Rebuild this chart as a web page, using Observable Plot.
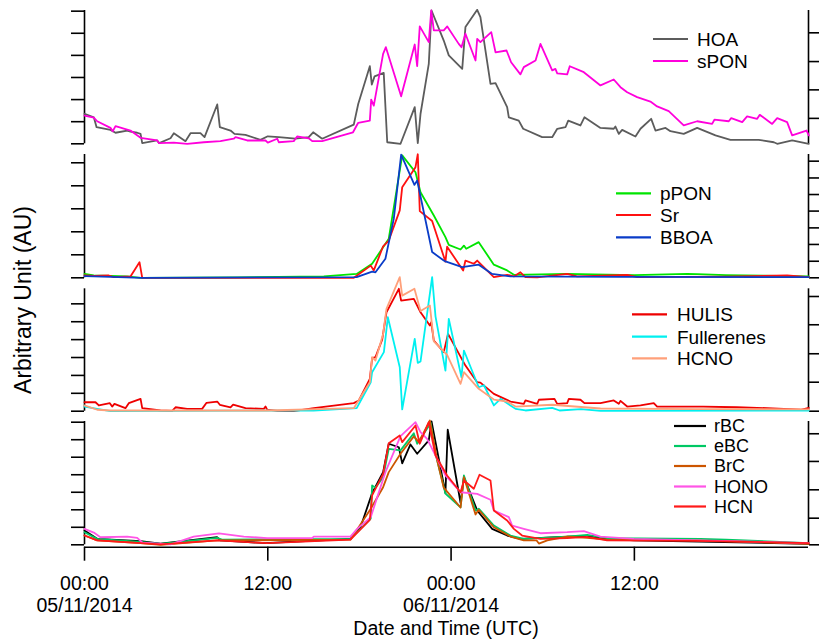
<!DOCTYPE html>
<html><head><meta charset="utf-8">
<script src="https://cdn.jsdelivr.net/npm/d3@7"></script>
<script src="https://cdn.jsdelivr.net/npm/@observablehq/plot@0.6"></script>
<style>
body{margin:0;background:#fff;}
#chart{position:relative;width:821px;height:643px;font-family:"Liberation Sans",Arial,sans-serif;}
#chart svg{position:absolute;left:0;top:0;}
</style></head><body><div id="chart"></div>
<script>
// ---- time axis (hours since 05/11/2014 00:00 UTC) ----
const xDomain = [0, 47.4];
const xTicks = [0, 12, 24, 36];
const xTickLabels = ["00:00\n05/11/2014", "12:00", "00:00\n06/11/2014", "12:00"];
const xTitle = "Date and Time (UTC)";
const yTitle = "Arbitrary Unit (AU)";

// ---- panel 1 ----
const hoa = [[0,1.36],[0.61,1.2],[0.79,0.75],[1.70,0.63],[2.03,0.5],[2.80,0.6],[3.01,0.55],[3.45,0.5],[3.67,0.45],[3.78,0.03],[4.76,0.15],[4.89,0.03],[5.63,0.25],[5.85,0.48],[6.61,0.12],[6.94,0.48],[7.59,0.48],[7.86,0.3],[8.69,1.78],[8.86,0.75],[9.56,0.6],[9.82,0.45],[10.54,0.4],[11.52,0.18],[12.0,0.34],[12.72,0.3],[13.81,0.23],[14.68,0.3],[14.97,0.52],[15.56,0.23],[17.63,0.87],[17.92,1.8],[18.68,3.51],[18.81,2.68],[18.99,3.05],[19.59,3.21],[19.82,0.07],[20.69,0],[21.62,1.66],[21.82,0.03],[22.0,1.36],[22.54,3.62],[22.72,6.03],[23.52,4.67],[23.85,4.0],[24.73,3.39],[24.94,5.28],[25.71,6.06],[25.92,5.73],[26.58,2.71],[26.91,2.74],[27.67,1.66],[27.78,1.2],[28.43,1.05],[28.72,0.68],[29.96,0.3],[30.62,0.3],[30.95,0.68],[31.49,0.75],[31.67,1.05],[32.47,0.83],[32.73,1.2],[33.78,0.72],[34.65,0.68],[34.76,0.78],[34.98,0.45],[35.20,0.63],[36.07,0.33],[36.40,0.68],[37.10,1.13],[37.38,0.6],[38.04,0.72],[38.36,0.57],[39.23,0.45],[40.11,0.72],[41.31,0.38],[42.29,0.18],[44.14,0.18],[45.13,0.07],[45.35,0],[46.33,0.15],[47.42,0]];
const spon = [[0,1.28],[0.61,1.18],[0.83,1.02],[1.70,0.72],[1.85,0.57],[2.03,0.8],[3.01,0.6],[3.67,0.27],[4.76,0.15],[4.87,0.03],[5.85,0.05],[6.72,0],[7.81,0.07],[8.90,0.12],[9.77,0.23],[9.89,0.3],[10.65,0.15],[11.85,0.15],[12.0,0.05],[12.62,0.23],[12.72,0.07],[13.70,0.12],[13.92,0.33],[14.68,0.25],[14.91,0.12],[15.56,0.12],[17.58,0.52],[17.92,0.95],[18.68,1.05],[18.77,2.0],[18.94,1.73],[19.55,4.07],[19.73,4.37],[20.73,2.15],[21.62,4.49],[21.78,3.51],[21.95,5.31],[22.54,4.6],[22.70,6.03],[22.87,5.13],[23.52,5.13],[23.75,5.31],[24.50,4.52],[24.68,4.37],[24.94,4.98],[25.60,3.77],[25.71,4.75],[25.92,4.6],[26.63,5.05],[26.91,4.14],[27.63,4.22],[27.93,3.69],[28.54,3.14],[28.76,3.47],[29.53,3.77],[29.85,4.52],[30.62,3.32],[30.83,3.39],[30.95,3.19],[31.60,3.14],[31.77,3.51],[32.69,3.24],[33.78,2.64],[34.65,2.91],[35.09,2.56],[35.53,2.33],[36.18,2.11],[37.05,1.91],[37.49,1.69],[38.25,1.48],[39.23,0.83],[40.11,1.02],[41.09,0.9],[41.24,1.09],[42.18,1.02],[42.34,1.16],[43.06,0.98],[43.38,1.24],[44.04,1.13],[44.21,1.31],[45.02,0.9],[45.35,1.16],[46.00,0.98],[46.33,0.38],[47.27,0.6],[47.42,0.38]];

// ---- panel 2 ----
const ppon = [[0,0.17],[0.61,0.1],[2.80,0.06],[3.67,0],[10,0.02],[15.67,0.06],[17.82,0.17],[18.83,0.61],[19.92,1.7],[20.80,5.32],[21.67,4.59],[22.0,3.72],[22.87,2.71],[23.63,1.77],[23.85,1.43],[24.62,1.23],[24.84,1.4],[24.99,1.26],[25.81,1.55],[26.80,0.57],[27.67,0.32],[28.11,0.13],[31.60,0.17],[36,0.12],[39.45,0.17],[40.11,0.16],[42,0.12],[47.42,0.06]];
const sr = [[0,0.1],[0.61,0.08],[1.59,0.1],[1.92,0.03],[3.01,0.06],[3.60,0.68],[3.78,0],[17.63,0],[18.74,0.53],[18.94,0.32],[19.55,1.37],[19.92,1.62],[20.64,2.93],[20.80,3.94],[21.67,4.81],[21.82,5.37],[21.95,2.9],[22.76,2.47],[23.63,0.7],[23.74,1.35],[24.79,0.32],[24.94,0.75],[25.49,0.61],[25.71,0.75],[26.04,0.53],[26.80,0.03],[27.67,0.13],[28.11,0.06],[28.54,0.24],[28.87,0.03],[29.64,0.02],[31.60,0.17],[32.25,0.06],[35.53,0.13],[36.18,0.03],[42,0.05],[46.0,0.1],[47.42,0.03]];
const bboa = [[0,0.07],[0.61,0.06],[3.78,0],[17.82,0.03],[18.83,0.27],[19.05,0.24],[19.70,0.83],[20.25,2.57],[20.73,5.35],[21.60,4.04],[21.78,4.23],[22.76,1.12],[23.52,0.75],[23.63,0.71],[24.73,0.46],[25.81,0.57],[26.69,0.17],[27.89,0.06],[35,0.04],[47.42,0.03]];

// ---- panel 3 ----
const hulis = [[0,0.5],[0.72,0.5],[0.94,0.32],[1.66,0.45],[1.81,0.26],[1.96,0.41],[2.68,0.17],[2.90,0.45],[3.67,0.69],[3.78,0.17],[4.98,0.04],[5.74,0.02],[5.96,0.22],[6.72,0.13],[7.70,0.13],[7.99,0.47],[8.69,0.54],[8.86,0.36],[9.56,0.22],[9.73,0.37],[10.54,0.17],[11.74,0.13],[11.85,0.26],[11.96,0.09],[12.62,0.02],[13.70,0],[15.01,0.17],[17.63,0.45],[17.96,0.6],[18.68,1.81],[18.83,2.96],[19.05,3.02],[19.49,4.0],[19.77,5.53],[20.58,6.84],[20.73,6.18],[21.56,6.28],[22.0,5.53],[22.61,4.79],[22.70,4.97],[22.87,3.95],[23.52,3.3],[23.80,4.32],[24.94,2.55],[25.71,1.62],[25.92,1.6],[26.80,0.97],[27.89,0.54],[28.76,0.41],[28.87,0.6],[29.64,0.41],[29.75,0.64],[30.77,0.69],[30.95,0.41],[31.60,0.45],[31.71,0.69],[32.47,0.64],[32.73,0.45],[33.78,0.45],[34.65,0.6],[34.98,0.41],[35.09,0.58],[35.53,0.26],[36.40,0.32],[37.27,0.45],[37.49,0.26],[39.23,0.26],[40.5,0.26],[42.7,0.22],[44.7,0.17],[46.88,0.08],[47.42,0.19]];
const fullerenes = [[0,0.26],[0.83,0.13],[1.70,0],[10,0.03],[15,0.03],[17.82,0.17],[18.74,1.62],[18.83,2.18],[19.60,3.3],[19.86,5.25],[20.64,2.46],[20.80,0.1],[21.62,4.04],[21.82,2.7],[22.0,2.78],[22.76,7.49],[22.98,5.3],[23.63,2.27],[23.85,5.16],[24.68,1.9],[24.84,3.39],[25.81,1.34],[26.15,1.45],[26.80,0.32],[27.24,0.69],[28.22,0.13],[28.87,0.04],[30.62,0.19],[31.1,0.04],[32.5,0.12],[33.78,0.02],[47.42,0.04]];
const hcno = [[0,0.32],[0.83,0.08],[1.70,0.04],[12,0.04],[17.63,0.17],[18.68,1.62],[18.83,3.02],[19.05,2.83],[19.55,4.32],[19.77,5.72],[20.64,7.49],[20.80,6.46],[21.60,6.84],[22.0,5.6],[22.61,5.91],[22.87,3.9],[23.74,3.15],[24.62,1.53],[24.84,2.18],[25.81,1.25],[26.80,0.65],[27.67,0.54],[28.22,0.26],[30.62,0.36],[33.78,0.15],[40,0.12],[47.42,0.1]];

// ---- panel 4 ----
const rbc = [[0,0.82],[0.83,0.34],[3.67,0.21],[4.98,0.06],[8.69,0.43],[8.90,0.25],[11.85,0.1],[17.41,0.34],[18.07,1.0],[18.83,2.95],[19.55,4.15],[19.92,5.77],[20.58,5.57],[20.80,4.65],[21.34,5.73],[21.78,5.2],[22.54,5.96],[22.72,7.05],[23.63,2.95],[23.78,6.57],[24.62,2.4],[24.84,3.86],[25.71,1.96],[26.69,0.91],[27.67,0.53],[28.54,0.34],[31.60,0.47],[32.9,0.5],[33.78,0.38],[35.96,0.25],[47.42,0.06]];
const ebc = [[0,0.72],[0.83,0.34],[3.67,0.17],[4.98,0.05],[8.69,0.4],[9.0,0.3],[17.41,0.34],[18.74,1.5],[18.83,3.39],[19.05,3.26],[19.55,3.86],[19.92,5.48],[20.69,5.39],[21.56,6.37],[21.78,5.77],[22.67,6.95],[22.98,5.2],[23.63,2.93],[24.62,2.14],[24.84,3.96],[25.60,1.96],[25.81,2.06],[26.80,1.1],[27.89,0.53],[28.76,0.34],[31.60,0.47],[32.91,0.57],[34.21,0.38],[40.33,0.34],[42,0.3],[47.42,0.1]];
const brc = [[0,0.53],[0.83,0.25],[3.67,0.1],[4.98,0],[8.69,0.25],[17.41,0.29],[18.74,2.06],[19.55,3.29],[19.92,4.15],[20.69,5.2],[21.56,6.19],[21.89,5.86],[22.61,7.1],[23.09,4.82],[23.52,3.26],[24.62,2.13],[24.84,3.86],[25.60,1.73],[25.81,2.0],[26.80,1.0],[27.89,0.47],[28.76,0.25],[29.6,0.25],[29.75,0.07],[30.3,0.25],[31.60,0.47],[32.9,0.4],[34.21,0.3],[40,0.25],[47.42,0.06]];
const hono = [[0,0.91],[0.61,0.7],[1.04,0.43],[2.80,0.47],[3.45,0.4],[3.78,0.13],[5.63,0.02],[7.15,0.47],[8.80,0.65],[10.43,0.47],[11.96,0.38],[14.9,0.38],[15.01,0.47],[17.41,0.47],[17.85,0.91],[18.74,1.58],[19.70,4.15],[20.69,6.2],[21.67,7.0],[22.0,6.43],[22.43,6.05],[23.09,4.91],[23.63,3.96],[24.62,3.0],[25.71,2.91],[26.58,2.57],[26.80,1.96],[27.78,1.58],[28.0,1.1],[28.76,0.91],[29.85,0.66],[31.60,0.72],[32.69,0.78],[33.78,0.47],[35.96,0.34],[47.42,0.1]];
const hcn = [[0,0.53],[0.83,0.25],[3.67,0.09],[4.98,0.03],[8.69,0.25],[11.96,0.09],[17.41,0.29],[18.68,1.43],[18.83,2.82],[19.55,4.05],[19.92,5.8],[20.64,6.24],[20.80,5.86],[21.67,6.81],[21.95,5.77],[22.54,7.0],[22.98,5.1],[23.74,3.96],[24.62,3.0],[24.84,3.67],[25.49,3.2],[25.86,4.0],[26.58,3.67],[26.80,1.96],[27.67,1.39],[28.11,0.91],[28.65,0.53],[29.85,0.34],[31.60,0.38],[32.9,0.45],[34.21,0.25],[40,0.22],[47.42,0.1]];

// ---- axis tick values per panel (unlabelled ticks) ----
const p1LeftTicks = [0,1,2,3,4,5,6], p1RightTicks = [1.15,2.44,3.72,5.02];
const p2LeftTicks = [0,1,2,3,4,5],   p2RightTicks = [0,0.72,1.45,2.17,2.9,3.62,4.34,5.07];
const p3LeftTicks = [0,1,2,3,4,5,6], p3RightTicks = [0,1.62,3.21,4.83,6.41];
const p4LeftTicks = [0,1,2,3,4,5,6,7], p4RightTicks = [0,1.52,3.14,4.76,6.34];

// ---- layout ----
const W = 821, H = 643;
const FONT = "'Liberation Sans', Arial, sans-serif";
const SVGSTYLE = `background: transparent; overflow: visible; font-family: ${FONT};`;
const panels = [
  {top: 10, bottom: 143.3, yMax: 6.03, left: p1LeftTicks, right: p1RightTicks,
   series: [{name: "HOA", data: hoa, color: "#5c5c5c"}, {name: "sPON", data: spon, color: "#ff00dc"}],
   legend: {x: 653, len: 35, tx: 697, ys: [39, 61], size: 19}},
  {top: 154, bottom: 277.3, yMax: 5.36, left: p2LeftTicks, right: p2RightTicks,
   series: [{name: "pPON", data: ppon, color: "#00e400"}, {name: "Sr", data: sr, color: "#ff1010"}, {name: "BBOA", data: bboa, color: "#0a3cc8"}],
   legend: {x: 616, len: 35, tx: 660, ys: [193.3, 215, 237.3], size: 19}},
  {top: 288.3, bottom: 410.7, yMax: 6.84, left: p3LeftTicks, right: p3RightTicks,
   series: [{name: "HULIS", data: hulis, color: "#ee0000"}, {name: "Fullerenes", data: fullerenes, color: "#00f0f0"}, {name: "HCNO", data: hcno, color: "#ffa07a"}],
   legend: {x: 632, len: 35, tx: 677, ys: [314.3, 336.7, 358.3], size: 19}},
  {top: 421, bottom: 544.3, yMax: 7.04, left: p4LeftTicks, right: p4RightTicks,
   series: [{name: "rBC", data: rbc, color: "#000000"}, {name: "eBC", data: ebc, color: "#00c864"}, {name: "BrC", data: brc, color: "#cc5500"}, {name: "HONO", data: hono, color: "#ff55e6"}, {name: "HCN", data: hcn, color: "#ff1a1a"}],
   legend: {x: 674, len: 32, tx: 714, ys: [426, 446, 466, 486.5, 506.5], size: 18}}
];

const chart = document.getElementById("chart");

for (const p of panels) {
  const svg = Plot.plot({
    width: W, height: H,
    marginLeft: 84, marginRight: 13, marginTop: p.top, marginBottom: H - p.bottom,
    x: {domain: xDomain, axis: null},
    y: {domain: [0, p.yMax]},
    style: SVGSTYLE,
    marks: [
      Plot.ruleX(xDomain, {stroke: "#000", strokeWidth: 1.6}),
      Plot.axisY({anchor: "left", ticks: p.left, tickSize: 13, tickFormat: () => "", strokeWidth: 1.6, label: null}),
      Plot.axisY({anchor: "right", ticks: p.right, tickSize: 10, tickFormat: () => "", strokeWidth: 1.6, label: null}),
      ...p.series.map(s => Plot.line(s.data, {x: d => d[0], y: d => d[1], stroke: s.color, strokeWidth: 1.8}))
    ]
  });
  chart.appendChild(svg);
}

// x axis
const xAxis = Plot.plot({
  width: W, height: H,
  marginLeft: 84, marginRight: 13, marginTop: 500, marginBottom: H - 546.7,
  x: {domain: xDomain},
  y: {domain: [0, 1], axis: null},
  style: SVGSTYLE,
  marks: [
    Plot.ruleY([0], {stroke: "#000", strokeWidth: 1.6}),
    Plot.axisX({ticks: xTicks, tickFormat: (d, i) => xTickLabels[xTicks.indexOf(d)], tickSize: 14, tickPadding: 14,
                fontSize: 19.5, lineHeight: 1.1, strokeWidth: 1.6, label: null, fill: "#000"})
  ]
});
chart.appendChild(xAxis);

// legends and titles
const ov = d3.create("svg").attr("width", W).attr("height", H)
  .style("font-family", FONT).style("overflow", "visible");
for (const p of panels) {
  const L = p.legend;
  p.series.forEach((s, i) => {
    const y = L.ys[i];
    ov.append("line").attr("x1", L.x).attr("x2", L.x + L.len).attr("y1", y).attr("y2", y)
      .attr("stroke", s.color).attr("stroke-width", 2.2);
    ov.append("text").attr("x", L.tx).attr("y", y).attr("dy", "0.36em")
      .attr("font-size", L.size).attr("fill", "#000").text(s.name);
  });
}
ov.append("text").attr("x", 446).attr("y", 628).attr("dy", "0.36em").attr("text-anchor", "middle")
  .attr("font-size", 19.5).text(xTitle);
ov.append("text").attr("transform", "translate(23,300) rotate(-90)").attr("dy", "0.36em")
  .attr("text-anchor", "middle").attr("font-size", 23).text(yTitle);
chart.appendChild(ov.node());
</script>
</body></html>
